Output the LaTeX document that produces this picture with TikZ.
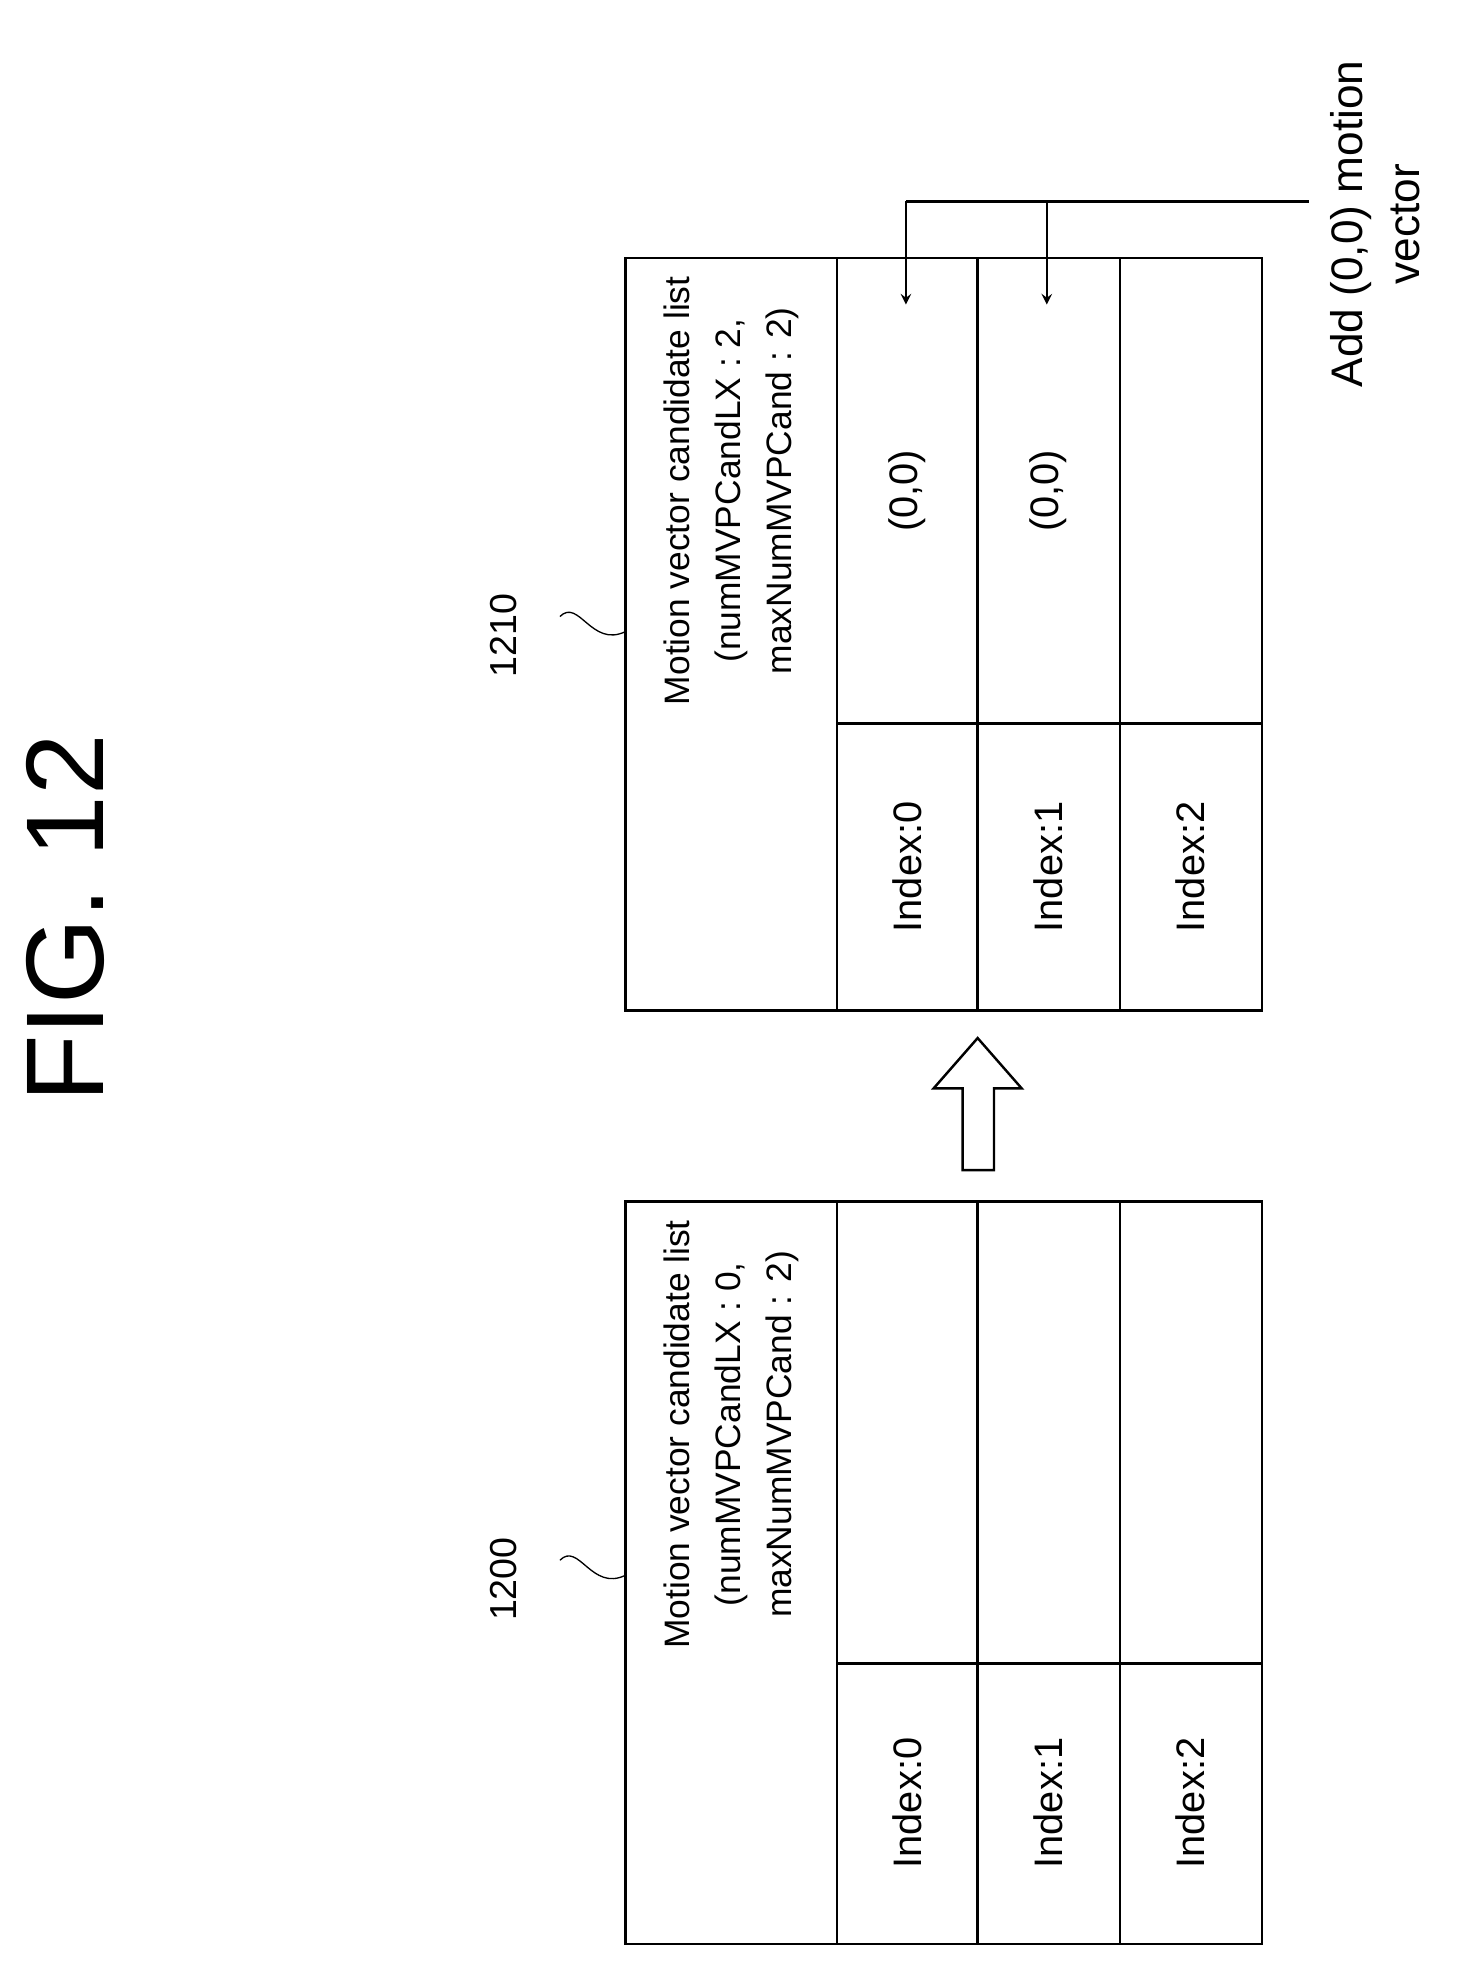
\documentclass[tikz,border=0pt]{standalone}
\usepackage{fontspec}
\setmainfont{Liberation Sans}
\usetikzlibrary{positioning}
\begin{document}
\begin{tikzpicture}[%
		x=0.02cm,
		y=-0.02cm,
		line width=1.1pt,
		>=stealth,
		celltext/.style={%
			rotate=90,
			font=\fontsize{18}{23}\selectfont,
			align=center
		},
		headtext/.style={%
			rotate=90,
			font=\fontsize{16}{23}\selectfont,
			align=center
		},
		reftext/.style={%
			rotate=90,
			font=\fontsize{17}{20}\selectfont
		}
		]
		\useasboundingbox (0,0) rectangle (1160,1580);
		\node[rotate=90,font=\fontsize{50}{60}\selectfont] (fig) at (52,730) {FIG. 12};

		% list 1200
		\draw (497,955) rectangle (1003,1545);
		\draw (665,955) -- (665,1545) (777,955) -- (777,1545) (890,955) -- (890,1545);
		\draw (665,1322) -- (1003,1322);
		\node[headtext] (h0) at (581,1140) {Motion vector candidate list\\(numMVPCandLX : 0,\\maxNumMVPCand : 2)};
		\node[celltext] (a0) at (721,1433) {Index:0};
		\node[celltext] (a1) at (833,1433) {Index:1};
		\node[celltext] (a2) at (946,1433) {Index:2};
		\node[reftext] (n1200) at (400,1255) {1200};
		\draw[line width=0.6pt] (445,1240) .. controls (460,1225) and (470,1265) .. (497,1252);

		% list 1210
		\draw (497,205) rectangle (1003,803);
		\draw (665,205) -- (665,803) (777,205) -- (777,803) (890,205) -- (890,803);
		\draw (665,575) -- (1003,575);
		\node[headtext] (h1) at (581,390) {Motion vector candidate list\\(numMVPCandLX : 2,\\maxNumMVPCand : 2)};
		\node[celltext] (b0) at (721,689) {Index:0};
		\node[celltext] (b1) at (833,689) {Index:1};
		\node[celltext] (b2) at (946,689) {Index:2};
		\node[celltext] (v0) at (721,390) {(0,0)};
		\node[celltext] (v1) at (833,390) {(0,0)};
		\node[reftext] (n1210) at (400,505) {1210};
		\draw[line width=0.6pt] (445,490) .. controls (460,475) and (470,515) .. (497,502);

		% hollow arrow
		\draw (765,930) -- (790,930) -- (790,865) -- (812,865) -- (777,825)
			-- (742,865) -- (765,865) -- cycle;

		% add (0,0)
		\node[celltext,font=\fontsize{20}{26}\selectfont] (add) at (1093,178) {Add (0,0) motion\\vector};
		\coordinate (s) at (1040,160);
		\coordinate (t0) at (720,160);
		\coordinate (t1) at (832,160);
		\draw (s) -- (t0);
		\draw[->] (t0) -- (720,242);
		\draw[->] (t1) -- (832,242);
\end{tikzpicture}
\end{document}
